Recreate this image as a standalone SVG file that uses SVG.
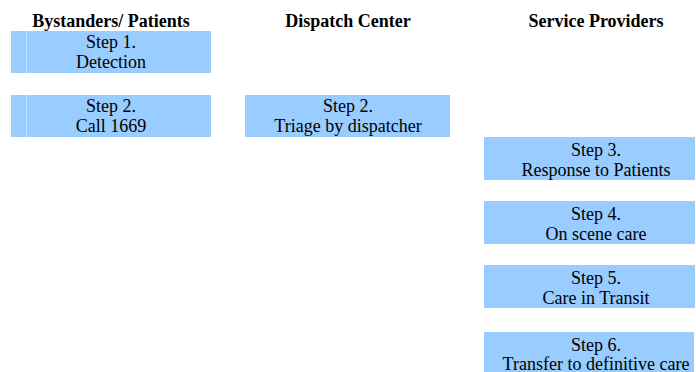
<svg xmlns="http://www.w3.org/2000/svg" width="696" height="372" viewBox="0 0 696 372">
<style>
text{font-family:"Liberation Serif","Times New Roman",serif;font-size:18px;fill:#000;text-anchor:middle}
.hdr{font-weight:bold}
.box{fill:#99CCFF}
.seam{stroke:#C4E1FF;stroke-width:1}
</style>
<rect width="696" height="372" fill="#FFFFFF"/>
<g id="headers">
<text class="hdr" x="111" y="27">Bystanders/ Patients</text>
<text class="hdr" x="348" y="27">Dispatch Center</text>
<text class="hdr" x="596" y="27">Service Providers</text>
</g>
<g id="connectors"></g>
<g id="step1">
<rect class="box" x="11" y="31" width="200" height="42"/>
<line class="seam" x1="26.5" y1="31" x2="26.5" y2="73"/>
<text font-family="Liberation Serif, serif" x="111" y="48">Step 1.</text>
<text font-family="Liberation Serif, serif" x="111" y="68">Detection</text>
</g>
<g id="step2-call">
<rect class="box" x="11" y="95" width="200" height="42"/>
<line class="seam" x1="26.5" y1="95" x2="26.5" y2="137"/>
<text font-family="Liberation Serif, serif" x="111" y="112">Step 2.</text>
<text font-family="Liberation Serif, serif" x="111" y="132">Call 1669</text>
</g>
<g id="step2-triage">
<rect class="box" x="245" y="95" width="205" height="42"/>
<text font-family="Liberation Serif, serif" x="348" y="112">Step 2.</text>
<text font-family="Liberation Serif, serif" x="348" y="132">Triage by dispatcher</text>
</g>
<g id="step3">
<rect class="box" x="484" y="137" width="211" height="43"/>
<text font-family="Liberation Serif, serif" x="596" y="156">Step 3.</text>
<text font-family="Liberation Serif, serif" x="596" y="176">Response to Patients</text>
</g>
<g id="step4">
<rect class="box" x="484" y="201" width="211" height="43"/>
<text font-family="Liberation Serif, serif" x="596" y="220">Step 4.</text>
<text font-family="Liberation Serif, serif" x="596" y="240">On scene care</text>
</g>
<g id="step5">
<rect class="box" x="484" y="265" width="211" height="43"/>
<text font-family="Liberation Serif, serif" x="596" y="284">Step 5.</text>
<text font-family="Liberation Serif, serif" x="596" y="304">Care in Transit</text>
</g>
<g id="step6">
<rect class="box" x="484" y="332" width="210" height="40"/>
<text font-family="Liberation Serif, serif" x="596" y="351">Step 6.</text>
<text font-family="Liberation Serif, serif" x="596" y="370">Transfer to definitive care</text>
</g>
</svg>
